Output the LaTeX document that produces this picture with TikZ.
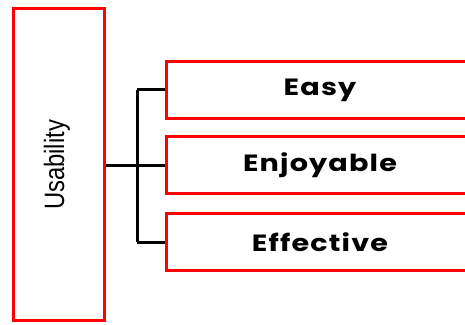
\documentclass[tikz,border=0pt]{standalone}
\usepackage{fontspec}
\setmainfont{Poppins}[BoldFont={* Bold}, LetterSpace=4]
\newfontfamily\narrowsans{Liberation Sans}
\tikzset{
  redbox/.style={draw=red, line width=3pt, fill=white, inner sep=0pt},
  item/.style={redbox, minimum width=307pt, minimum height=57pt,
    font=\fontsize{23.5}{26}\selectfont\bfseries},
  branch/.style={draw=black, line width=3pt}
}
\newcommand{\wide}[1]{\scalebox{1.22}[1]{#1}}
\begin{document}
\begin{tikzpicture}[x=1pt, y=1pt]
\useasboundingbox (0,0) rectangle (465,324);
% main box
\node[redbox, minimum width=91pt, minimum height=312pt] (use) at (59,159.5) {};
\node[rotate=90, font=\narrowsans\fontsize{28}{30}\selectfont] (uselabel) at (57,159) {\scalebox{0.85}[1]{Usability}};
% items
\node[item] (easy) at (320,234) {\wide{Easy}};
\node[item] (enj) at (320,158.5) {\wide{Enjoyable}};
\node[item] (eff) at (320,82) {\wide{Effective}};
% tree lines
\coordinate (hub) at (137,158.5);
\draw[branch] (use.east |- enj.west) -- (enj.west);
\draw[branch] (hub |- easy.west) -- (hub |- eff.west);
\draw[branch] (hub |- easy.west) -- (easy.west);
\draw[branch] (hub |- eff.west) -- (eff.west);
\end{tikzpicture}
\end{document}
